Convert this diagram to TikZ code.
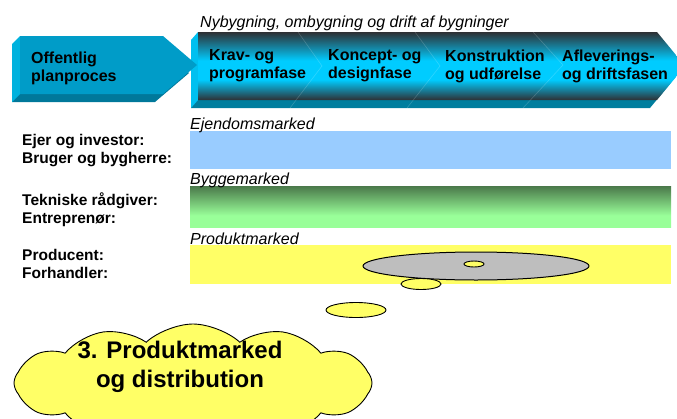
\documentclass[tikz,border=0pt]{standalone}
\usepackage{fontspec}
\setmainfont{Liberation Sans}
\usetikzlibrary{shapes.symbols,shapes.geometric}
\definecolor{lafront}{HTML}{009CC8}
\definecolor{laside}{HTML}{00B2DE}
\definecolor{labottom}{HTML}{00789A}
\definecolor{baside}{HTML}{00C0F0}
\definecolor{babottom}{HTML}{007E9E}
\definecolor{badark}{HTML}{2E3034}
\definecolor{bacyan}{HTML}{00CCFF}
\definecolor{barblue}{HTML}{99CCFF}
\definecolor{gdark}{HTML}{4A784A}
\definecolor{glight}{HTML}{99FF99}
\definecolor{baryellow}{HTML}{FFFF66}
\definecolor{diskgray}{HTML}{BEBEBE}
\pgfdeclareverticalshading{arrowgrad}{100bp}{color(0bp)=(badark); color(25bp)=(badark); color(40bp)=(bacyan); color(54bp)=(bacyan); color(75bp)=(badark); color(100bp)=(badark)}
\pgfdeclareverticalshading{greenbar}{100bp}{color(0bp)=(glight); color(25bp)=(glight); color(39bp)=(glight); color(75bp)=(gdark); color(100bp)=(gdark)}
\begin{document}
\begin{tikzpicture}[x=1pt,y=-1pt,
  phase/.style={font=\fontsize{16}{18}\selectfont\bfseries, align=left, anchor=west, inner sep=0pt},
  role/.style={font=\fontsize{15.5}{18}\selectfont\bfseries, align=left, anchor=west, inner sep=0pt},
  ital/.style={font=\fontsize{16}{18}\selectfont\itshape, anchor=west, inner sep=0pt},
  bubble/.style={ellipse, draw=black, line width=0.9pt, fill=baryellow, inner sep=0pt},
  chev/.style={draw=white, opacity=0.18, line width=0.6pt}]
\useasboundingbox (0,0) rectangle (677,418);
\clip (0,0) rectangle (677,418);

% big process arrow
\fill[babottom] (191,40) -- (650,40) -- (678,74) -- (650,108) -- (191,108) -- cycle;
\fill[baside] (191,40) -- (198,32) -- (198,100) -- (191,108) -- cycle;
\shade[shading=arrowgrad] (198,32) -- (657,32) -- (685,66) -- (657,100) -- (198,100) -- cycle;
\draw[chev] (298,32) -- (322,66) -- (290,108);
\draw[chev] (415,32) -- (440,66) -- (407,108);
\draw[chev] (533,32) -- (563,65) -- (523,108);

% left arrow
\fill[labottom] (12,44) -- (155,44) -- (189,73) -- (155,102) -- (12,102) -- cycle;
\fill[laside] (12,44) -- (20,36) -- (20,94) -- (12,102) -- cycle;
\fill[lafront] (20,36) -- (163,36) -- (197,65) -- (163,94) -- (20,94) -- cycle;

\node[phase] (off) at (31,68) {Offentlig\\planproces};
\node[phase] (krav) at (209,66) {Krav- og\\programfase};
\node[phase] (konc) at (328,66) {Koncept- og\\designfase};
\node[phase] (kons) at (445,66) {Konstruktion\\og udførelse};
\node[phase] (afl) at (562,66) {Afleverings-\\og driftsfasen};
\node[ital] (top) at (200,23) {Nybygning, ombygning og drift af bygninger};

% market bars
\fill[barblue] (190,131) rectangle (671,169);
\shade[shading=greenbar] (190,186) rectangle (671,227);
\fill[baryellow] (190,245) rectangle (671,284);
\node[ital] (ejd) at (190,125) {Ejendomsmarked};
\node[ital] (byg) at (190,180) {Byggemarked};
\node[ital] (prod) at (190,239) {Produktmarked};

\node[role] (r1) at (22,151) {Ejer og investor:\\Bruger og bygherre:};
\node[role] (r2) at (22,210) {Tekniske rådgiver:\\Entreprenør:};
\node[role] (r3) at (22,264) {Producent:\\Forhandler:};

% disk and thought bubbles
\node[ellipse, draw=black, line width=1pt, fill=diskgray, minimum width=226pt, minimum height=28pt, inner sep=0pt] (disk) at (476,266) {};
\node[bubble, minimum width=20pt, minimum height=6pt] (hole) at (474,264) {};
\node[bubble, minimum width=40pt, minimum height=11pt] (bub2) at (421,284) {};
\node[bubble, minimum width=60pt, minimum height=15pt] (bub1) at (356,310) {};

\node[cloud, draw=black, line width=0.9pt, fill=baryellow, cloud puffs=12, cloud puff arc=85, aspect=3, minimum width=358pt, minimum height=118pt, inner sep=0pt] (cloud) at (193,383) {};
\node[font=\fontsize{24}{29}\selectfont\bfseries, align=center, inner sep=0pt] (cloudtext) at (180,367) {3. Produktmarked\\og distribution};
\end{tikzpicture}
\end{document}
